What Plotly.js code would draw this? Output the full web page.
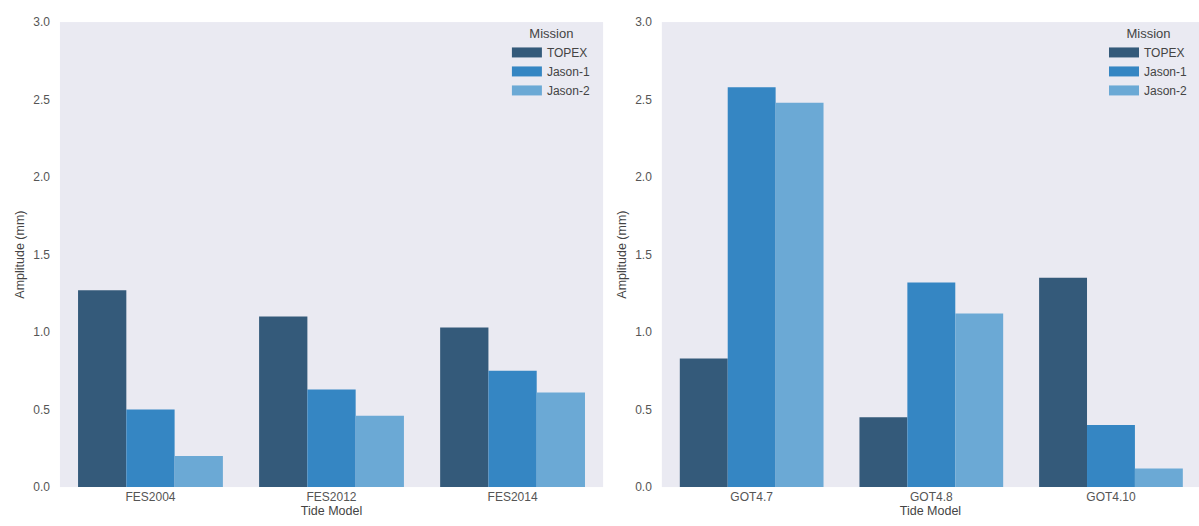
<!DOCTYPE html>
<html>
<head>
<meta charset="utf-8">
<script src="https://cdn.plot.ly/plotly-3.0.1.min.js"></script>
<style>html,body{margin:0;padding:0;background:#fff;}#chart{width:1199px;height:526px;}</style>
</head>
<body>
<div id="chart"></div>
<script>
// Categories
const fesModels = ["FES2004", "FES2012", "FES2014"];
const gotModels = ["GOT4.7", "GOT4.8", "GOT4.10"];
const missions = ["TOPEX", "Jason-1", "Jason-2"];

// Amplitude (mm) per mission, FES models
const fesTOPEX  = [1.27, 1.10, 1.03];
const fesJason1 = [0.50, 0.63, 0.75];
const fesJason2 = [0.20, 0.46, 0.61];

// Amplitude (mm) per mission, GOT models
const gotTOPEX  = [0.83, 0.45, 1.35];
const gotJason1 = [2.58, 1.32, 0.40];
const gotJason2 = [2.48, 1.12, 0.12];

const yTicks = [0.0, 0.5, 1.0, 1.5, 2.0, 2.5, 3.0];

const colors = ["#345a7a", "#3586c3", "#6ba9d5"];
const fesSeries = [fesTOPEX, fesJason1, fesJason2];
const gotSeries = [gotTOPEX, gotJason1, gotJason2];

const traces = [];
missions.forEach((m, i) => {
  traces.push({type: "bar", name: m, x: fesModels, y: fesSeries[i], xaxis: "x", yaxis: "y",
    marker: {color: colors[i], line: {width: 0}}, showlegend: false, hoverinfo: "x+y+name"});
});
missions.forEach((m, i) => {
  traces.push({type: "bar", name: m, x: gotModels, y: gotSeries[i], xaxis: "x2", yaxis: "y2",
    marker: {color: colors[i], line: {width: 0}}, showlegend: false, hoverinfo: "x+y+name"});
});
// legend entries (wide swatches)
missions.forEach((m, i) => {
  traces.push({type: "scatter", mode: "lines", name: m, x: [null], y: [null], xaxis: "x", yaxis: "y",
    line: {color: colors[i], width: 10}, legend: "legend", showlegend: true, hoverinfo: "skip"});
});
missions.forEach((m, i) => {
  traces.push({type: "scatter", mode: "lines", name: m, x: [null], y: [null], xaxis: "x2", yaxis: "y2",
    line: {color: colors[i], width: 10}, legend: "legend2", showlegend: true, hoverinfo: "skip"});
});

const FONT = "Liberation Sans, Arial, sans-serif";
const tickFont = {family: FONT, size: 12, color: "#555555"};
const titleFont = {family: FONT, size: 12.5, color: "#444444"};
const yDom = [0.074, 0.958];

function yAxis(anchor) {
  return {domain: yDom, anchor: anchor, range: [0, 3.0], tickvals: yTicks, tickformat: ".1f",
    showgrid: false, zeroline: false, showline: false, ticks: "", ticklabelstandoff: 9,
    tickfont: tickFont, title: {text: "Amplitude (mm)", font: titleFont, standoff: 5}, fixedrange: true};
}
function xAxis(domain, anchor, rmax) {
  return {domain: domain, anchor: anchor, type: "category", range: [-0.5, rmax],
    showgrid: false, zeroline: false, showline: false, ticks: "", ticklabelstandoff: 1,
    tickfont: tickFont, title: {text: "Tide Model", font: titleFont, standoff: 0}, fixedrange: true};
}
function legendCfg(x) {
  return {x: x, xanchor: "right", y: 0.96, yanchor: "top", bgcolor: "rgba(0,0,0,0)",
    font: {family: FONT, size: 12, color: "#444444"},
    title: {text: "Mission", side: "top center", font: {family: FONT, size: 13, color: "#444444"}},
    itemwidth: 30, tracegroupgap: 0};
}

const layout = {
  width: 1199, height: 526,
  margin: {l: 0, r: 0, t: 0, b: 0},
  paper_bgcolor: "#ffffff",
  plot_bgcolor: "#eaeaf2",
  barmode: "group", bargap: 0.2, bargroupgap: 0,
  showlegend: true,
  xaxis: xAxis([0.050, 0.503], "y", 2.5),
  yaxis: yAxis("x"),
  xaxis2: xAxis([0.552, 1.0], "y2", 2.49),
  yaxis2: yAxis("x2"),
  legend: legendCfg(0.497),
  legend2: legendCfg(0.995)
};

Plotly.newPlot("chart", traces, layout, {displayModeBar: false, staticPlot: true});
</script>
</body>
</html>
